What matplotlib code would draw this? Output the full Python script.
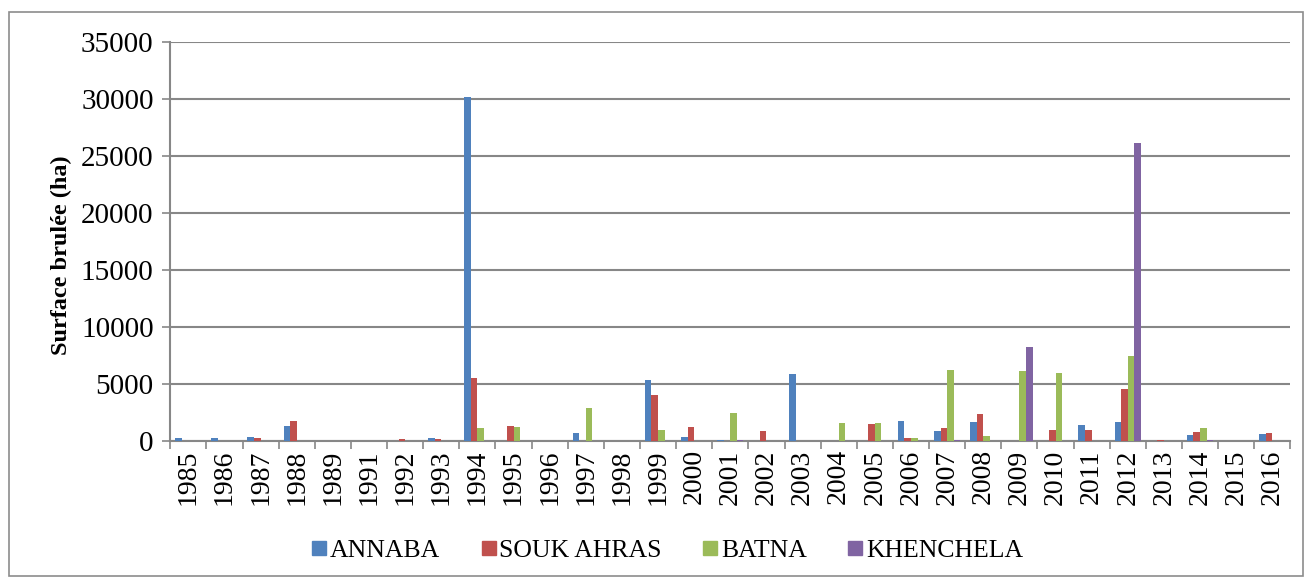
import numpy as np
import matplotlib
matplotlib.use("Agg")
from matplotlib import pyplot as plt
from matplotlib.patches import Rectangle
from matplotlib.lines import Line2D

plt.rcParams['font.family'] = ['Liberation Serif', 'DejaVu Serif']

years = ['1985', '1986', '1987', '1988', '1989', '1991', '1992', '1993', '1994', '1995',
         '1996', '1997', '1998', '1999', '2000', '2001', '2002', '2003', '2004', '2005',
         '2006', '2007', '2008', '2009', '2010', '2011', '2012', '2013', '2014', '2015', '2016']
annaba = [250, 300, 320, 1330, 0, 0, 0, 240, 30200, 0, 0, 680, 0, 5360, 385, 120,
          0, 5830, 0, 0, 1720, 860, 1660, 0, 0, 1360, 1660, 0, 560, 30, 620]
souk_ahras = [0, 0, 300, 1750, 0, 0, 150, 150, 5560, 1270, 0, 0, 0, 4030, 1210, 0,
              860, 0, 0, 1450, 300, 1120, 2400, 0, 920, 920, 4590, 120, 800, 0, 710]
batna = [0, 0, 0, 0, 0, 0, 0, 0, 1100, 1240, 0, 2900, 0, 1000, 0, 2460,
         0, 0, 1570, 1570, 240, 6260, 410, 6140, 5930, 20, 7460, 0, 1100, 0, 30]
khenchela = [0, 0, 0, 0, 0, 0, 0, 0, 0, 0, 0, 0, 0, 0, 0, 50,
             0, 0, 0, 0, 0, 50, 30, 8220, 0, 20, 26100, 0, 120, 0, 0]

series = [('ANNABA', annaba, '#4F81BD'),
          ('SOUK AHRAS', souk_ahras, '#C0504D'),
          ('BATNA', batna, '#9BBB59'),
          ('KHENCHELA', khenchela, '#8064A2')]

fig = plt.figure(figsize=(13.1, 5.81), dpi=100)
ax = fig.add_axes([0.130, 0.241, 0.855, 0.687])

x = np.arange(len(years))
w = 1 / 5.5
for i, (name, vals, col) in enumerate(series):
    ax.bar(x + (i - 1.5) * w, vals, width=w, color=col, label=name, zorder=3)

grid_col = '#878787'
ax.set_ylim(0, 35000)
ax.set_xlim(-0.5, len(years) - 0.5)
ax.set_yticks(np.arange(0, 35001, 5000))
ax.yaxis.grid(True, color=grid_col, linewidth=1.5, zorder=0)
ax.tick_params(axis='y', labelsize=21, length=6, width=1.2, color=grid_col, pad=6)

ax.set_xticks(x)
ax.set_xticklabels(years, rotation=90, fontsize=20)
ax.tick_params(axis='x', which='major', length=0, pad=6)
ax.set_xticks(np.arange(-0.5, len(years), 1), minor=True)
ax.tick_params(axis='x', which='minor', length=6, width=1.2, color=grid_col)

for s in ['top', 'right']:
    ax.spines[s].set_visible(False)
for s in ['left', 'bottom']:
    ax.spines[s].set_color(grid_col)
    ax.spines[s].set_linewidth(1.5)

ax.set_ylabel('Surface brulée (ha)', fontsize=17.5, fontweight='bold')
ax.yaxis.set_label_coords(-0.088, 0.466)

handles = [Line2D([], [], marker='s', linestyle='none', markersize=9.5,
                  markerfacecolor=col, markeredgecolor=col) for _, _, col in series]
labels = [name for name, _, _ in series]
ax.legend(handles, labels, loc='center', bbox_to_anchor=(0.444, -0.275), ncol=4,
          frameon=False, fontsize=18.5, handlelength=0.55, handletextpad=0.15,
          columnspacing=1.6, borderpad=0, borderaxespad=0)

fig.patches.append(Rectangle((0.007, 0.008), 0.988, 0.972, transform=fig.transFigure,
                             fill=False, edgecolor='#8c8c8c', linewidth=1.2))

fig.savefig('out.png', dpi=100)
